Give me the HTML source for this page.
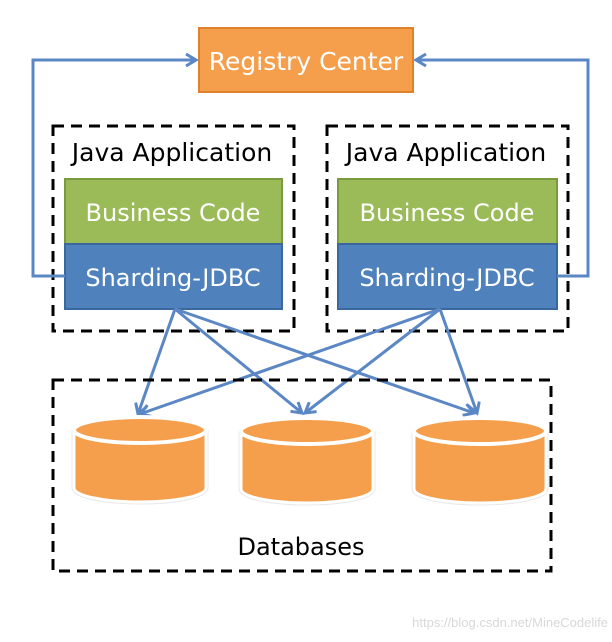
<!DOCTYPE html>
<html><head><style>
body{margin:0;background:#fff;width:612px;height:638px;overflow:hidden;font-family:"DejaVu Sans","Liberation Sans",sans-serif}
</style></head><body>
<svg width="612" height="638" xmlns="http://www.w3.org/2000/svg">
<defs>
<marker id="a" markerWidth="14" markerHeight="14" refX="11" refY="7" orient="auto" markerUnits="userSpaceOnUse">
<path d="M1,1 L11,7 L1,13" fill="none" stroke="#5b87c5" stroke-width="3"/>
</marker>
<g id="cyl">
<path d="M-66,0 L-66,58 A66,14 0 0 0 66,58 L66,0" fill="#f59e4c" stroke="#e8e8e8" stroke-width="5"/>
<path d="M-66,0 L-66,58 A66,14 0 0 0 66,58 L66,0" fill="#f59e4c" stroke="#fff" stroke-width="3"/>
<ellipse cx="0" cy="0" rx="66" ry="13" fill="#f59e4c" stroke="#fff" stroke-width="4"/>
</g>
</defs>
<rect x="199" y="28" width="214" height="64" fill="#f59e4c" stroke="#e0812e" stroke-width="2"/>
<text x="306" y="70" font-size="25" fill="#fff" text-anchor="middle">Registry Center</text>
<rect x="53" y="126" width="241" height="205" fill="none" stroke="#000" stroke-width="3" stroke-dasharray="11,7"/>
<rect x="327" y="126" width="241" height="205" fill="none" stroke="#000" stroke-width="3" stroke-dasharray="11,7"/>
<text x="172" y="161" font-size="25" text-anchor="middle">Java Application</text>
<text x="446" y="161" font-size="25" text-anchor="middle">Java Application</text>
<rect x="65" y="179" width="217" height="65" fill="#9bbb59" stroke="#7a9a3f" stroke-width="2"/>
<rect x="65" y="244" width="217" height="65" fill="#4f81bd" stroke="#3a679e" stroke-width="2"/>
<rect x="338" y="179" width="219" height="65" fill="#9bbb59" stroke="#7a9a3f" stroke-width="2"/>
<rect x="338" y="244" width="219" height="65" fill="#4f81bd" stroke="#3a679e" stroke-width="2"/>
<text x="173" y="221" font-size="24" fill="#fff" text-anchor="middle">Business Code</text>
<text x="173" y="286" font-size="24" fill="#fff" text-anchor="middle">Sharding-JDBC</text>
<text x="447" y="221" font-size="24" fill="#fff" text-anchor="middle">Business Code</text>
<text x="447" y="286" font-size="24" fill="#fff" text-anchor="middle">Sharding-JDBC</text>
<g fill="none" stroke="#5b87c5" stroke-width="3" marker-end="url(#a)">
<path d="M65,276 L33,276 L33,60 L196,60"/>
<path d="M557,276 L588,276 L588,60 L416,60"/>
<line x1="175" y1="309" x2="138" y2="414"/>
<line x1="175" y1="309" x2="302" y2="413"/>
<line x1="175" y1="309" x2="474" y2="413"/>
<line x1="440" y1="309" x2="140" y2="414"/>
<line x1="440" y1="309" x2="305" y2="413"/>
<line x1="440" y1="309" x2="477" y2="413"/>
</g>
<rect x="53" y="380" width="498" height="191" fill="none" stroke="#000" stroke-width="3" stroke-dasharray="11,7"/>
<use href="#cyl" x="140" y="430"/>
<use href="#cyl" x="307" y="431"/>
<use href="#cyl" x="480" y="431"/>
<text x="301" y="555" font-size="24" text-anchor="middle">Databases</text>
<text x="608" y="627" font-size="13" fill="#d8d8d8" text-anchor="end" font-family="Liberation Sans,sans-serif">https://blog.csdn.net/MineCodelife</text>
</svg>
</body></html>
